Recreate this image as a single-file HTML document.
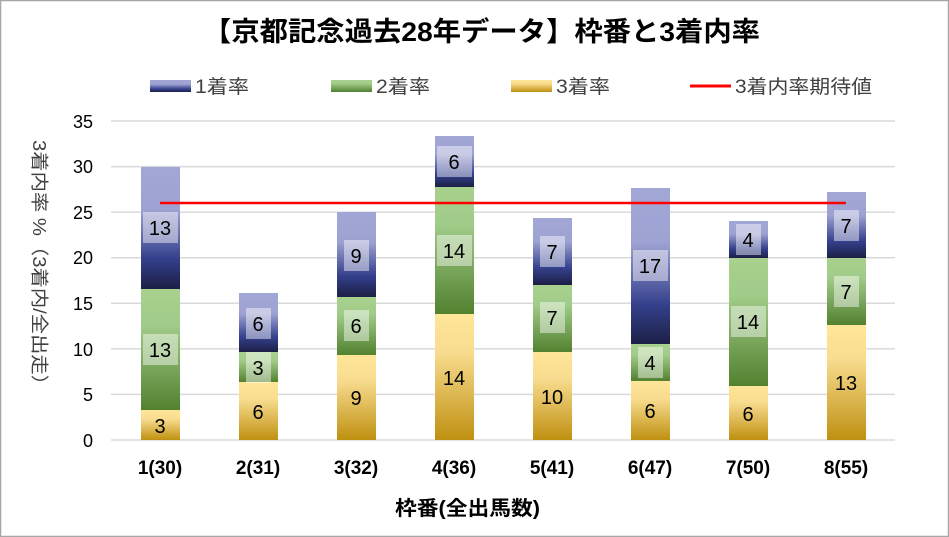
<!DOCTYPE html>
<html><head><meta charset="utf-8"><style>
body{margin:0;background:#fff}
svg{display:block}
text{font-family:"Liberation Sans","Noto Sans CJK JP",sans-serif}
</style></head><body>
<svg width="949" height="537" viewBox="0 0 949 537" xmlns="http://www.w3.org/2000/svg">
<defs>
<linearGradient id="g1" x1="0" y1="0" x2="0" y2="1">
<stop offset="0" stop-color="#a3a7d6"/><stop offset="0.35" stop-color="#9ea2d2"/><stop offset="0.75" stop-color="#34408c"/><stop offset="1" stop-color="#1c1f45"/></linearGradient>
<linearGradient id="g2" x1="0" y1="0" x2="0" y2="1">
<stop offset="0" stop-color="#a9d18e"/><stop offset="0.3" stop-color="#a0cb88"/><stop offset="1" stop-color="#52812f"/></linearGradient>
<linearGradient id="g3" x1="0" y1="0" x2="0" y2="1">
<stop offset="0" stop-color="#ffe699"/><stop offset="0.3" stop-color="#f8dc8f"/><stop offset="1" stop-color="#bf9010"/></linearGradient>
</defs>
<rect x="0.5" y="0.5" width="948" height="536" fill="#fff" stroke="#a6a6a6" stroke-width="1.5"/>
<text x="203" y="41" font-size="27" font-weight="bold" textLength="557" lengthAdjust="spacingAndGlyphs">【京都記念過去28年データ】枠番と3着内率</text>
<g font-size="19" fill="#404040">
<rect x="150" y="80" width="41" height="12" fill="url(#g1)"/><text x="195" y="93" textLength="54" lengthAdjust="spacingAndGlyphs">1着率</text>
<rect x="331" y="80" width="41" height="12" fill="url(#g2)"/><text x="376" y="93" textLength="54" lengthAdjust="spacingAndGlyphs">2着率</text>
<rect x="511" y="80" width="41" height="12" fill="url(#g3)"/><text x="556" y="93" textLength="54" lengthAdjust="spacingAndGlyphs">3着率</text>
<line x1="690" y1="86" x2="731" y2="86" stroke="#f00" stroke-width="3"/><text x="735" y="93" textLength="137" lengthAdjust="spacingAndGlyphs">3着内率期待値</text>
</g>
<g stroke="#d9d9d9" stroke-width="1.5">
<line x1="111" y1="121" x2="895" y2="121"/><line x1="111" y1="166.6" x2="895" y2="166.6"/>
<line x1="111" y1="212.1" x2="895" y2="212.1"/><line x1="111" y1="257.7" x2="895" y2="257.7"/>
<line x1="111" y1="303.3" x2="895" y2="303.3"/><line x1="111" y1="348.9" x2="895" y2="348.9"/>
<line x1="111" y1="394.4" x2="895" y2="394.4"/><line x1="111" y1="440" x2="895" y2="440"/>
</g>
<g font-size="18" fill="#000" text-anchor="end">
<text x="93" y="128">35</text><text x="93" y="173">30</text><text x="93" y="219">25</text><text x="93" y="264">20</text>
<text x="93" y="310">15</text><text x="93" y="356">10</text><text x="93" y="401">5</text><text x="93" y="447">0</text>
</g>
<text transform="translate(33,140) rotate(90)" font-size="18" fill="#404040" textLength="255" lengthAdjust="spacingAndGlyphs">3着内率 %（3着内/全出走）</text>
<g>
<rect x="141" y="410" width="39" height="30" fill="url(#g3)"/>
<rect x="141" y="289" width="39" height="121" fill="url(#g2)"/>
<rect x="141" y="167" width="39" height="122" fill="url(#g1)"/>
<rect x="239" y="382" width="39" height="58" fill="url(#g3)"/>
<rect x="239" y="352" width="39" height="30" fill="url(#g2)"/>
<rect x="239" y="293" width="39" height="59" fill="url(#g1)"/>
<rect x="337" y="355" width="39" height="85" fill="url(#g3)"/>
<rect x="337" y="297" width="39" height="58" fill="url(#g2)"/>
<rect x="337" y="212" width="39" height="85" fill="url(#g1)"/>
<rect x="435" y="314" width="39" height="126" fill="url(#g3)"/>
<rect x="435" y="187" width="39" height="127" fill="url(#g2)"/>
<rect x="435" y="136" width="39" height="51" fill="url(#g1)"/>
<rect x="533" y="352" width="39" height="88" fill="url(#g3)"/>
<rect x="533" y="285" width="39" height="67" fill="url(#g2)"/>
<rect x="533" y="218" width="39" height="67" fill="url(#g1)"/>
<rect x="631" y="381" width="39" height="59" fill="url(#g3)"/>
<rect x="631" y="344" width="39" height="37" fill="url(#g2)"/>
<rect x="631" y="188" width="39" height="156" fill="url(#g1)"/>
<rect x="729" y="386" width="39" height="54" fill="url(#g3)"/>
<rect x="729" y="258" width="39" height="128" fill="url(#g2)"/>
<rect x="729" y="221" width="39" height="37" fill="url(#g1)"/>
<rect x="827" y="325" width="39" height="115" fill="url(#g3)"/>
<rect x="827" y="258" width="39" height="67" fill="url(#g2)"/>
<rect x="827" y="192" width="39" height="66" fill="url(#g1)"/>
</g>
<line x1="160" y1="203" x2="846" y2="203" stroke="#f00" stroke-width="2.5"/>
<g fill="#fff" fill-opacity="0.45">
<rect x="143" y="212" width="35" height="31"/><rect x="143" y="334" width="35" height="31"/>
<rect x="246" y="308" width="25" height="31"/><rect x="246" y="352" width="25" height="31"/>
<rect x="344" y="240" width="25" height="31"/><rect x="344" y="310" width="25" height="31"/>
<rect x="437" y="146" width="35" height="31"/><rect x="437" y="235" width="35" height="31"/>
<rect x="540" y="236" width="25" height="31"/><rect x="540" y="302" width="25" height="31"/>
<rect x="633" y="250" width="35" height="31"/><rect x="638" y="347" width="25" height="31"/>
<rect x="736" y="224" width="25" height="31"/><rect x="731" y="306" width="35" height="31"/>
<rect x="834" y="210" width="25" height="31"/><rect x="834" y="276" width="25" height="31"/>
</g>
<g font-size="20" fill="#000" text-anchor="middle">
<text x="160" y="235">13</text><text x="160" y="357">13</text><text x="160" y="433">3</text>
<text x="258" y="331">6</text><text x="258" y="375">3</text><text x="258" y="419">6</text>
<text x="356" y="263">9</text><text x="356" y="333">6</text><text x="356" y="405">9</text>
<text x="454" y="169">6</text><text x="454" y="258">14</text><text x="454" y="385">14</text>
<text x="552" y="259">7</text><text x="552" y="325">7</text><text x="552" y="404">10</text>
<text x="650" y="273">17</text><text x="650" y="370">4</text><text x="650" y="418">6</text>
<text x="748" y="247">4</text><text x="748" y="329">14</text><text x="748" y="421">6</text>
<text x="846" y="233">7</text><text x="846" y="299">7</text><text x="846" y="390">13</text>
</g>
<g font-size="19" font-weight="bold" fill="#000" text-anchor="middle">
<text x="160" y="474">1(30)</text><text x="258" y="474">2(31)</text><text x="356" y="474">3(32)</text><text x="454" y="474">4(36)</text>
<text x="552" y="474">5(41)</text><text x="650" y="474">6(47)</text><text x="748" y="474">7(50)</text><text x="846" y="474">8(55)</text>
</g>
<text x="395" y="515" font-size="20" font-weight="bold" textLength="145" lengthAdjust="spacingAndGlyphs">枠番(全出馬数)</text>
</svg>
</body></html>
